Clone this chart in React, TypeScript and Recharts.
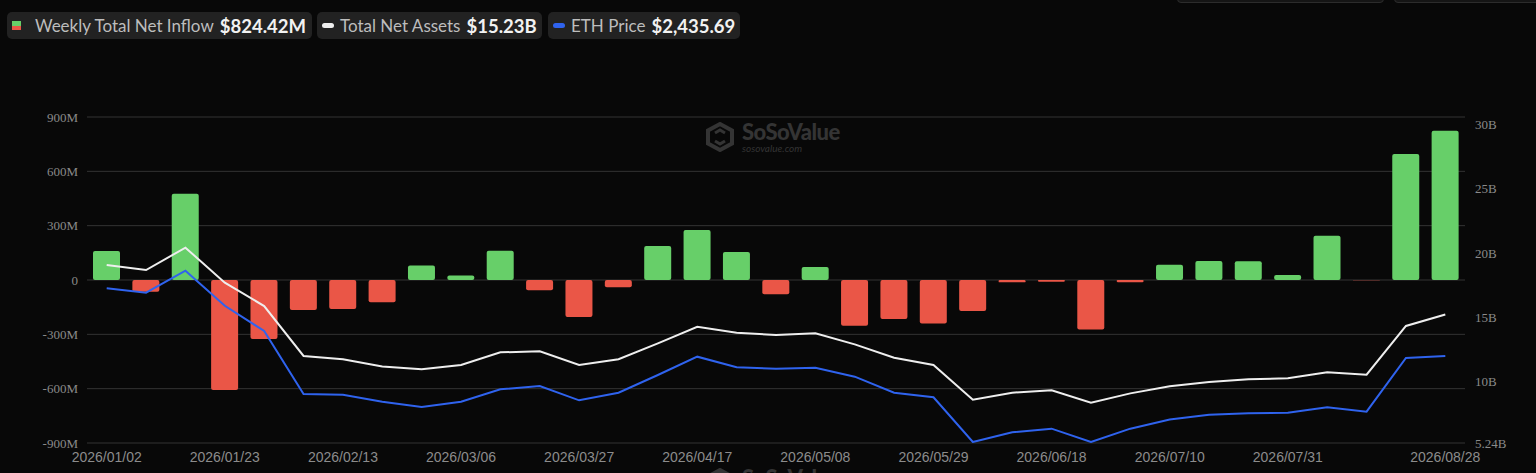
import React from "react";
import {
  Bar,
  CartesianGrid,
  Cell,
  ComposedChart,
  Line,
  XAxis,
  YAxis,
} from "recharts";

// weekly dates (Fridays, or the last trading day of the week)
const dates = [
  "2026/01/02", "2026/01/09", "2026/01/16", "2026/01/23", "2026/01/30",
  "2026/02/06", "2026/02/13", "2026/02/20", "2026/02/27", "2026/03/06",
  "2026/03/13", "2026/03/20", "2026/03/27", "2026/04/02", "2026/04/10",
  "2026/04/17", "2026/04/24", "2026/05/01", "2026/05/08", "2026/05/15",
  "2026/05/22", "2026/05/29", "2026/06/05", "2026/06/12", "2026/06/18",
  "2026/06/26", "2026/07/02", "2026/07/10", "2026/07/17", "2026/07/24",
  "2026/07/31", "2026/08/07", "2026/08/14", "2026/08/21", "2026/08/28",
];

// weekly total net inflow, millions USD
const netInflow = [
  160, -65, 476, -607, -326, -166, -160, -123, 80, 25, 162, -57, -204, -40,
  188, 276, 155, -78, 72, -252, -216, -240, -171, -13, -9, -273, -12, 84, 105,
  103, 28, 245, -2, 696, 824.42,
];

// total net assets, billions USD
const totalNetAssets = [
  19.08, 18.69, 20.43, 17.71, 15.89, 12.01, 11.75, 11.19, 10.97, 11.31, 12.29,
  12.37, 11.31, 11.75, 12.99, 14.28, 13.82, 13.64, 13.77, 12.91, 11.87, 11.31,
  8.61, 9.15, 9.34, 8.37, 9.1, 9.65, 9.98, 10.19, 10.27, 10.74, 10.55, 14.34,
  15.23,
];

// ETH price, USD
const ethPrice = [
  3320, 3262, 3549, 3092, 2762, 1940, 1931, 1838, 1770, 1839, 2001, 2044, 1857,
  1957, 2188, 2427, 2288, 2270, 2283, 2166, 1957, 1897, 1313, 1440, 1487, 1313,
  1487, 1607, 1669, 1688, 1696, 1766, 1709, 2410, 2435.69,
];

const xLabels = [
  "2026/01/02", "2026/01/23", "2026/02/13", "2026/03/06", "2026/03/27",
  "2026/04/17", "2026/05/08", "2026/05/29", "2026/06/18", "2026/07/10",
  "2026/07/31", "2026/08/28",
];
const leftTicks = [-900, -600, -300, 0, 300, 600, 900];
const rightTicks = [5.24, 10, 15, 20, 25, 30];

const data = dates.map((date, i) => ({
  date,
  inflow: netInflow[i],
  assets: totalNetAssets[i],
  eth: ethPrice[i],
}));

const GREEN = "#67CF69";
const RED = "#EA5647";
const WHITE = "#EEEEEE";
const BLUE = "#2F63EE";

const pill: React.CSSProperties = {
  position: "absolute",
  top: 12,
  height: 27,
  background: "#222222",
  borderRadius: 5,
  display: "flex",
  alignItems: "center",
  fontFamily: "Lato, 'Noto Sans', sans-serif",
  whiteSpace: "nowrap",
};
const label: React.CSSProperties = { color: "#BDBDBD", fontSize: 17 };
const value: React.CSSProperties = {
  color: "#F2F2F2",
  fontSize: 18.5,
  fontWeight: 700,
  marginLeft: 6,
};

const XTick = (props: any) => {
  const { x, y, payload } = props;
  if (!xLabels.includes(payload.value)) return <g />;
  return (
    <text
      x={x}
      y={y}
      dy="0.71em"
      textAnchor="middle"
      fill="#8C8C8C"
      fontSize={14}
      fontFamily="'Liberation Sans', Arial, sans-serif"
    >
      {payload.value}
    </text>
  );
};

const serif = "'Liberation Serif', 'Times New Roman', serif";

const LeftTick = (props: any) => {
  const { y, payload } = props;
  return (
    <text
      x={78}
      y={y}
      dy="0.35em"
      textAnchor="end"
      fill="#8A8A8A"
      fontSize={13}
      fontFamily={serif}
    >
      {payload.value === 0 ? "0" : `${payload.value}M`}
    </text>
  );
};

const RightTick = (props: any) => {
  const { y, payload } = props;
  return (
    <text
      x={1475}
      y={y}
      dy="0.35em"
      textAnchor="start"
      fill="#8A8A8A"
      fontSize={13}
      fontFamily={serif}
    >
      {`${payload.value}B`}
    </text>
  );
};

const Watermark = ({ left, top }: { left: number; top: number }) => (
  <div
    style={{
      position: "absolute",
      left,
      top,
      display: "flex",
      alignItems: "center",
      color: "#343434",
      fontFamily: "Lato, sans-serif",
    }}
  >
    <svg width={30} height={30} viewBox="0 0 30 30">
      <polygon
        points="15,2 27,8.5 27,21.5 15,28 3,21.5 3,8.5"
        fill="none"
        stroke="#343434"
        strokeWidth={4}
      />
      <path
        d="M10 11 L15 8 L20 11 M10 19 L15 22 L20 19"
        stroke="#343434"
        strokeWidth={3}
        fill="none"
      />
    </svg>
    <div style={{ marginLeft: 7, lineHeight: 1 }}>
      <div style={{ fontSize: 22, fontWeight: 900, letterSpacing: -0.5 }}>
        SoSoValue
      </div>
      <div style={{ fontSize: 10, fontStyle: "italic" }}>sosovalue.com</div>
    </div>
  </div>
);

export default function App() {
  return (
    <div
      style={{
        position: "absolute",
        left: 0,
        top: 0,
        width: 1536,
        height: 473,
        background: "#080808",
        overflow: "hidden",
      }}
    >
      {/* legend pills */}
      <div style={{ ...pill, left: 7, width: 305 }}>
        <div style={{ marginLeft: 5, width: 9, height: 9, marginRight: 14 }}>
          <div style={{ height: 4.5, background: GREEN }} />
          <div style={{ height: 4.5, background: RED }} />
        </div>
        <span style={label}>Weekly Total Net Inflow</span>
        <span style={value}>$824.42M</span>
      </div>
      <div style={{ ...pill, left: 317, width: 225 }}>
        <div
          style={{
            marginLeft: 5,
            width: 12,
            height: 5,
            borderRadius: 3,
            background: WHITE,
            marginRight: 6,
          }}
        />
        <span style={label}>Total Net Assets</span>
        <span style={value}>$15.23B</span>
      </div>
      <div style={{ ...pill, left: 548, width: 192 }}>
        <div
          style={{
            marginLeft: 5,
            width: 12,
            height: 5,
            borderRadius: 3,
            background: BLUE,
            marginRight: 6,
          }}
        />
        <span style={label}>ETH Price</span>
        <span style={value}>$2,435.69</span>
      </div>

      {/* cut-off buttons at the top right */}
      <div
        style={{
          position: "absolute",
          left: 1177,
          top: -20,
          width: 205,
          height: 21,
          border: "1px solid #2C2C2C",
          borderRadius: 4,
          background: "#151515",
        }}
      />
      <div
        style={{
          position: "absolute",
          left: 1394,
          top: -20,
          width: 150,
          height: 21,
          border: "1px solid #2C2C2C",
          borderRadius: 4,
          background: "#151515",
        }}
      />

      {/* watermarks */}
      <Watermark left={705} top={121} />
      <Watermark left={705} top={467} />

      <ComposedChart
        width={1536}
        height={473}
        data={data}
        margin={{ top: 117, right: 0, bottom: 0, left: 0 }}
        style={{ position: "absolute", left: 0, top: 0 }}
      >
        <CartesianGrid
          yAxisId="left"
          vertical={false}
          stroke="#333333"
          strokeWidth={1}
        />
        <XAxis
          dataKey="date"
          interval={0}
          height={30}
          axisLine={false}
          tickLine={false}
          tickSize={0}
          tickMargin={9}
          tick={<XTick />}
        />
        <YAxis
          yAxisId="left"
          orientation="left"
          width={87}
          domain={[-900, 900]}
          ticks={leftTicks}
          interval={0}
          axisLine={false}
          tickLine={false}
          tick={<LeftTick />}
        />
        <YAxis
          yAxisId="right"
          orientation="right"
          width={71}
          domain={[5.24, 30.59]}
          ticks={rightTicks}
          interval={0}
          allowDataOverflow
          axisLine={false}
          tickLine={false}
          tick={<RightTick />}
        />
        <YAxis yAxisId="eth" hide domain={[1300, 5556]} allowDataOverflow />
        <Bar
          yAxisId="left"
          dataKey="inflow"
          barSize={27}
          radius={2}
          isAnimationActive={false}
        >
          {data.map((d, i) => (
            <Cell key={i} fill={d.inflow >= 0 ? GREEN : RED} />
          ))}
        </Bar>
        <Line
          yAxisId="right"
          type="linear"
          dataKey="assets"
          stroke={WHITE}
          strokeWidth={2}
          dot={false}
          isAnimationActive={false}
        />
        <Line
          yAxisId="eth"
          type="linear"
          dataKey="eth"
          stroke={BLUE}
          strokeWidth={2}
          dot={false}
          isAnimationActive={false}
        />
      </ComposedChart>
    </div>
  );
}
